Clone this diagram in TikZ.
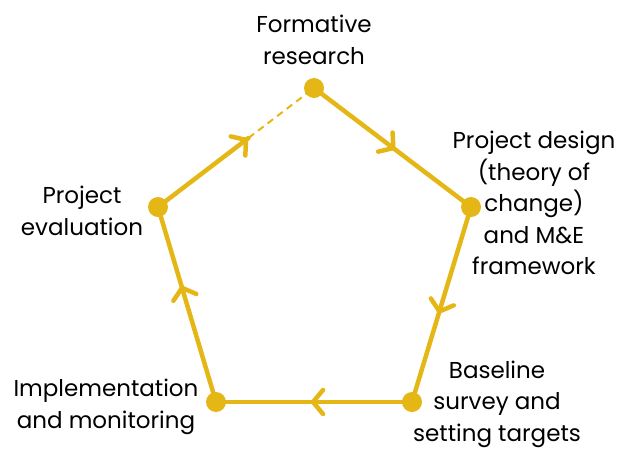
\documentclass[tikz,border=0pt]{standalone}
\usepackage{fontspec}
\setmainfont{Poppins}
\usetikzlibrary{arrows.meta,decorations.markings,calc}

\definecolor{gold}{RGB}{229,183,22}

\tikzset{
  cycleline/.style={draw=gold, line width=4.5pt, line cap=round},
  stagedot/.style={circle, fill=gold, inner sep=0pt, minimum size=20pt},
  chev/.style={postaction={decorate, decoration={markings,
      mark=at position #1 with {\arrow[gold, line width=4.5pt]{Straight Barb[length=10pt, width=24pt, line cap=round]}}}}},
  label/.style={align=center, font=\fontsize{23}{31.5}\selectfont}
}

\begin{document}
\begin{tikzpicture}[x=1pt, y=-1pt]
      \useasboundingbox (0,0) rectangle (623,448);

      \node[stagedot] (form) at (314,88) {};
      \node[stagedot] (design) at (471,207) {};
      \node[stagedot] (base) at (412,402) {};
      \node[stagedot] (impl) at (216,402) {};
      \node[stagedot] (eval) at (158,207) {};
      \coordinate (gap) at ($(eval)!0.58!(form)$);

      \draw[cycleline, chev=0.52] (form.center) -- (design.center);
      \draw[cycleline, chev=0.55] (design.center) -- (base.center);
      \draw[cycleline, chev=0.52] (base.center) -- (impl.center);
      \draw[cycleline, chev=0.6] (impl.center) -- (eval.center);
      \draw[cycleline, chev=1] (eval.center) -- (gap);
      \draw[cycleline, line width=2pt, line cap=butt, dash pattern=on 7pt off 5pt] (gap) -- (form.center);

      \node[label] (formtext) at (314,40) {Formative\\research};
      \node[label] (designtext) at (534,203) {Project design\\(theory of\\change)\\and M\&E\\framework};
      \node[label] (evaltext) at (82,211) {Project\\evaluation};
      \node[label] (impltext) at (106,407) {Implementation\\and monitoring};
      \node[label] (basetext) at (497,404) {Baseline\\survey and\\setting targets};
\end{tikzpicture}
\end{document}
